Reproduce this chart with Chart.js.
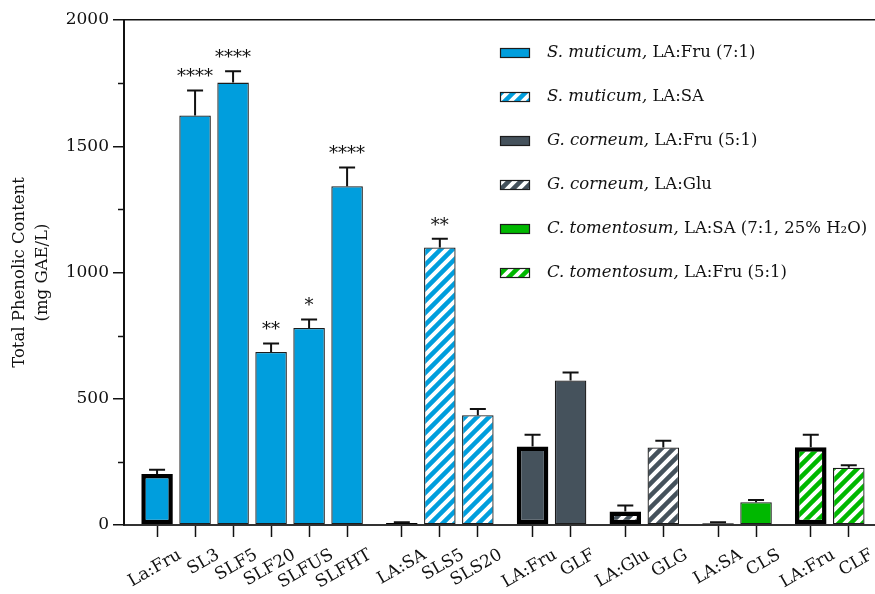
<!DOCTYPE html>
<html>
<head>
<meta charset="utf-8">
<script src="https://cdn.jsdelivr.net/npm/chart.js@4.4.1/dist/chart.umd.min.js"></script>
<style>
  html, body { margin: 0; padding: 0; background: #ffffff; }
  #wrap { width: 875px; height: 594px; position: relative; }
</style>
</head>
<body>
<div id="wrap"><canvas id="tpc"></canvas></div>
<script>
// Extraction conditions (x-axis order) and the series each one belongs to
const categories = ['La:Fru', 'SL3', 'SLF5', 'SLF20', 'SLFUS', 'SLFHT',
                    'LA:SA', 'SLS5', 'SLS20',
                    'LA:Fru', 'GLF',
                    'LA:Glu', 'GLG',
                    'LA:SA', 'CLS',
                    'LA:Fru', 'CLF'];
const seriesOf = [0, 0, 0, 0, 0, 0, 1, 1, 1, 2, 2, 3, 3, 4, 4, 5, 5];

// Total phenolic content (mg GAE/L), mean and SD
const phenolic   = [202, 1622, 1752, 685, 780, 1342, 8, 1099, 435, 311, 572, 53, 307, 7, 90, 308, 227];
const phenolicSD = [17, 99, 45, 34, 34, 74, 3, 35, 24, 46, 32, 24, 27, 4, 9, 49, 10];
const significance = ['', '****', '****', '**', '*', '****', '', '**', '', '', '', '', '', '', '', '', ''];
// DES blank (solvent only) bars, drawn with a heavy outline
const isBlank = [1, 0, 0, 0, 0, 0, 1, 0, 0, 1, 0, 1, 0, 1, 0, 1, 0];

// Series
const seriesLabels = ['S. muticum, LA:Fru (7:1)', 'S. muticum, LA:SA',
                      'G. corneum, LA:Fru (5:1)', 'G. corneum, LA:Glu',
                      'C. tomentosum, LA:SA (7:1, 25% H\u2082O)', 'C. tomentosum, LA:Fru (5:1)'];
const seriesColors = ['#009EDD', '#009EDD', '#45525C', '#45525C', '#00B800', '#00B800'];
const seriesStriped = [false, true, false, true, false, true];

// Y axis
const yMax = 2000;
const yMajorStep = 500;
const yMinorStep = 250;

const FONT = '"DejaVu Serif", "Liberation Serif", serif';
const INK = '#111111';
const GROUP_GAP = 0.44;

// x position of a bar: one unit per bar, plus a partial gap between series
function xPos(i) { return i + seriesOf[i] * GROUP_GAP; }

function stripePattern(color) {
  const s = 12;
  const c = document.createElement('canvas');
  c.width = s; c.height = s;
  const g = c.getContext('2d');
  g.fillStyle = color;
  g.fillRect(0, 0, s, s);
  g.strokeStyle = '#ffffff';
  g.lineWidth = 4;
  g.beginPath();
  for (const o of [-s, 0, s]) {
    g.moveTo(o - 2, s + 2);
    g.lineTo(o + s + 2, -2);
  }
  g.stroke();
  return g.createPattern(c, 'repeat');
}

const seriesFill = seriesColors.map((c, k) => seriesStriped[k] ? stripePattern(c) : c);

const datasets = seriesLabels.map((label, k) => ({
  label: label,
  data: categories.map((_, i) => i).filter(i => seriesOf[i] === k)
        .map(i => ({ x: xPos(i), y: phenolic[i], idx: i })),
  backgroundColor: seriesFill[k],
  borderColor: ctx => isBlank[ctx.raw ? ctx.raw.idx : 0] ? '#000000' : '#1c1c1c',
  borderWidth: ctx => isBlank[ctx.raw ? ctx.raw.idx : 0] ? 4.5 : 1.3,
  borderSkipped: false,
  grouped: false,
  barPercentage: 0.83,
  categoryPercentage: 1.0
}));

// Error bars (upper SD only) and significance stars
const errorBarPlugin = {
  id: 'errorBars',
  afterDatasetsDraw(chart) {
    const ctx = chart.ctx;
    const y = chart.scales.y;
    ctx.save();
    ctx.strokeStyle = INK;
    ctx.lineWidth = 2;
    chart.data.datasets.forEach((ds, k) => {
      const meta = chart.getDatasetMeta(k);
      meta.data.forEach((bar, j) => {
        const i = ds.data[j].idx;
        const top = y.getPixelForValue(phenolic[i] + phenolicSD[i]);
        const half = 8;
        ctx.beginPath();
        ctx.moveTo(bar.x, bar.y);
        ctx.lineTo(bar.x, top);
        ctx.moveTo(bar.x - half, top);
        ctx.lineTo(bar.x + half, top);
        ctx.stroke();
        if (significance[i]) {
          ctx.fillStyle = INK;
          ctx.font = '18px ' + FONT;
          ctx.textAlign = 'center';
          ctx.textBaseline = 'alphabetic';
          ctx.fillText(significance[i], bar.x, top - 8);
        }
      });
    });
    ctx.restore();
  }
};

// Short minor ticks on the y axis
const minorTickPlugin = {
  id: 'minorTicks',
  afterDraw(chart) {
    const ctx = chart.ctx;
    const y = chart.scales.y;
    const left = chart.chartArea.left;
    ctx.save();
    ctx.strokeStyle = INK;
    ctx.lineWidth = 1.5;
    for (let v = yMinorStep; v < yMax; v += yMajorStep) {
      const py = Math.round(y.getPixelForValue(v)) + 0.5;
      ctx.beginPath();
      ctx.moveTo(left - 6, py);
      ctx.lineTo(left, py);
      ctx.stroke();
    }
    ctx.restore();
  }
};

// Legend inside the plot area: species name in italics, solvent upright
const legendPlugin = {
  id: 'insetLegend',
  afterDraw(chart) {
    const ctx = chart.ctx;
    const area = chart.chartArea;
    const x0 = area.left + 376;
    const y0 = area.top + 33;
    const rowH = 44;
    ctx.save();
    chart.data.datasets.forEach((ds, k) => {
      const cy = y0 + k * rowH;
      ctx.fillStyle = ds.backgroundColor;
      ctx.fillRect(x0, cy - 5, 30, 10);
      ctx.strokeStyle = '#1c1c1c';
      ctx.lineWidth = 1.2;
      ctx.strokeRect(x0 + 0.5, cy - 4.5, 29, 9);
      const comma = ds.label.indexOf(',');
      const species = ds.label.slice(0, comma + 1);
      const rest = ds.label.slice(comma + 1);
      ctx.fillStyle = INK;
      ctx.textAlign = 'left';
      ctx.textBaseline = 'middle';
      ctx.font = 'italic 16.5px ' + FONT;
      let tx = x0 + 47;
      ctx.fillText(species, tx, cy);
      tx += ctx.measureText(species).width;
      ctx.font = '16.5px ' + FONT;
      ctx.fillText(rest, tx, cy);
    });
    ctx.restore();
  }
};

new Chart(document.getElementById('tpc'), {
  type: 'bar',
  data: { datasets: datasets },
  plugins: [errorBarPlugin, minorTickPlugin, legendPlugin],
  options: {
    responsive: true,
    maintainAspectRatio: false,
    animation: false,
    layout: { padding: { top: 20, right: 0, bottom: 0, left: 0 } },
    plugins: {
      legend: { display: false },
      tooltip: { enabled: false }
    },
    scales: {
      x: {
        type: 'linear',
        offset: false,
        min: -0.87,
        max: 18.89,
        afterBuildTicks: scale => {
          scale.ticks = categories.map((_, i) => ({ value: xPos(i) }));
        },
        afterFit: scale => { scale.height = 69; },
        ticks: {
          autoSkip: false,
          minRotation: 30,
          maxRotation: 30,
          labelOffset: 23,
          padding: 8,
          color: INK,
          font: { family: FONT, size: 17 },
          callback: (value, index) => categories[index]
        },
        grid: {
          offset: false,
          drawOnChartArea: false,
          drawTicks: true,
          tickLength: 12,
          tickColor: INK,
          tickWidth: 1.5
        },
        border: { color: '#333333', width: 2 }
      },
      y: {
        min: 0,
        max: yMax,
        afterFit: scale => { scale.width = 124; },
        ticks: {
          stepSize: yMajorStep,
          padding: 4,
          color: INK,
          font: { family: FONT, size: 17 },
          callback: value => String(value)
        },
        grid: {
          color: c => (c.tick && c.tick.value === yMax) ? INK : 'rgba(0,0,0,0)',
          lineWidth: 1.5,
          drawTicks: true,
          tickLength: 11,
          tickColor: INK,
          tickWidth: 1.5
        },
        border: { color: INK, width: 2 },
        title: {
          display: true,
          text: ['Total Phenolic Content', '(mg GAE/L)'],
          color: INK,
          font: { family: FONT, size: 16.5, lineHeight: 1.4 },
          padding: { top: 8, bottom: 0 }
        }
      }
    }
  }
});
</script>
</body>
</html>
